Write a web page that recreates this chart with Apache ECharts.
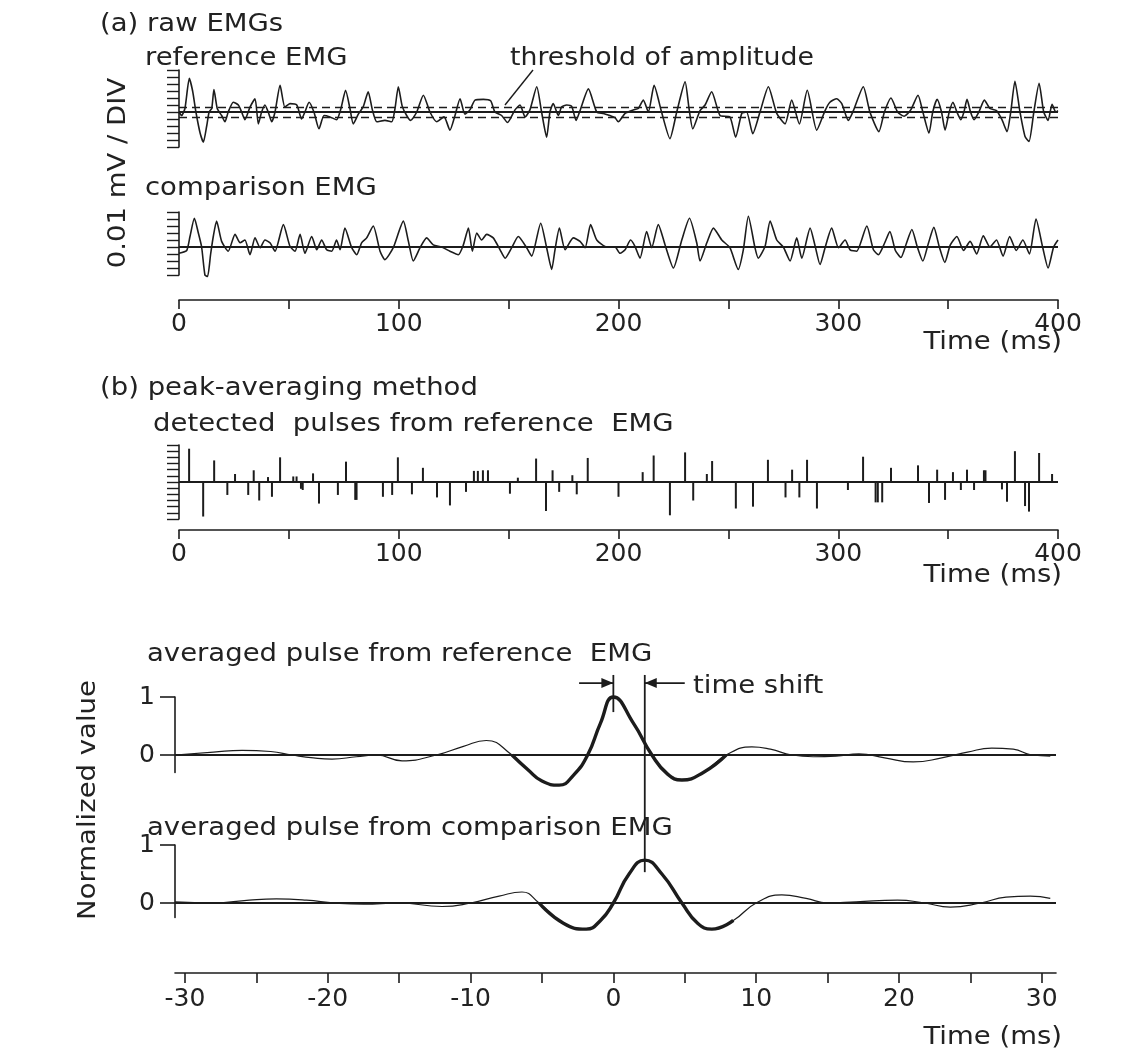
<!DOCTYPE html>
<html>
<head>
<meta charset="utf-8">
<script src="https://cdn.jsdelivr.net/npm/echarts@6/dist/echarts.min.js"></script>
<style>
html, body { margin: 0; padding: 0; background: #fff; }
#chart { width: 1146px; height: 1053px; }
</style>
</head>
<body>
<div id="chart"></div>
<script>
// (a) raw EMGs, time in ms, amplitude in DIV (0.01 mV)
var refEmgT = [0,1.2,2.7,4.7,6.2,7.7,9.6,11.1,12.6,13.7,14.9,15.9,17.4,19.4,20.9,22.4,24.7,27,28.5,30,32.3,34.6,36.1,37.6,39.1,40.6,42.2,43.7,46,48.2,50.5,53.6,55.8,57.3,59.2,61.4,63.7,66,68.7,71.7,73.7,75.8,77.8,79.3,81.6,83.9,86.1,88,90,93.7,96.8,98.3,99.8,101.6,103.6,105.4,108.2,111.2,114.2,117.3,120.6,123.3,125.6,127.9,130.1,132.4,134.7,138.5,141.8,143.8,146.8,149.5,152.9,155.2,157.5,159.7,162.8,165,167.3,168.8,170.3,172.6,174.1,176.4,178.7,180.7,182.5,186.3,190.1,193.1,196.1,198.4,199.9,203,206.7,209,211.3,213.6,216.2,219.6,223.4,226.5,230.3,232.1,233.8,237.1,239.4,242.4,246.2,250.7,253.3,256.1,258.3,261.1,264.4,268.2,272,275.8,278.8,282.3,285.9,290.2,294,296.2,299.3,301.6,304.6,306.9,311.4,314.4,318.5,321,324,327,330,333,336.3,338.5,341.3,343,345,347,348.6,350.5,352.2,354,355.8,357.2,358.6,360.2,361.8,364,366.5,369,372,374.5,376.8,378.5,380.4,382.7,385,386.8,389,391.4,393.5,395.5,397.3,399,400];
var refEmgV = [0,-0.5,0.5,4.8,3,0,-3,-4.3,-2,0,0.5,3.2,0.5,-0.5,-1.4,0,1.4,1,0,-1.1,0.7,1.9,-1.7,0,1,0,-1.4,0,3.8,0.7,1.2,1,-1,0,1.4,0,-2.4,-0.5,-0.7,-1.1,0.5,3.1,0.5,-1.7,-0.3,0.8,2.9,0.3,-1.4,-1.2,-1.4,0.5,3.6,0.8,-0.5,-1.2,0,2.4,0,-1.4,-0.7,-2.6,-0.5,1.9,-0.3,0.3,1.7,1.8,1.6,0,-0.5,-1.5,0.3,1,-0.7,0.3,3.6,0,-3.6,0,1.2,-0.5,0.7,1,0.8,-1.2,0.2,3.3,0,-0.2,-0.5,-0.8,-1.4,-0.2,0.3,0.5,1.7,0,3.8,0,-3.8,0,4.3,0.5,-2.4,0.2,1,2.9,-0.5,-0.7,-3.6,-0.2,0,-3.1,0,3.6,-0.2,-1.7,1.7,-1.7,3.1,-2.6,0.2,1.4,1.9,1.2,-1.2,0.2,3.6,0,-2.8,0,2,0,-0.6,0.3,2.4,0,-3,0,1.8,0,-2.6,0,1.4,0,-1.1,0,1.8,0,-1.1,0,1.7,0.5,0.2,-1.1,-2.8,0,4.4,0,-3.5,-4.2,0,4.1,0,-1.2,1.1,0,0.2];
var threshold = 0.75;

var cmpEmgT = [0,3.5,5,7,8.8,10.3,11.8,13,14.4,15.6,17.1,19.4,22.4,25.5,27.8,30,32.3,34.6,36.9,39.1,41.4,43.7,47.5,50.5,52.8,55.1,57.3,60.4,62.7,64.9,67.2,69.5,71.7,73.3,75.5,78.6,80.9,83.1,85.4,88.4,91.5,93.7,97.5,102.1,104.4,106.6,109.7,112.7,115.7,119.5,123.3,127.1,129.4,131.7,133.5,135.5,137.7,140,143,146.1,148.4,151.4,154.4,158.2,160.5,164.6,167.3,169.6,171.1,173.1,175.7,179.4,182.5,184.8,187.3,190.1,194.6,198.4,200.7,203,205.5,207.5,209.8,212.8,215.1,218.1,221.2,225,228.8,232.3,235.6,237.1,240.2,243.2,247,250.7,254.5,256.8,259.1,262.1,263.6,266.7,269,272,275,278.1,281.1,283.4,287.2,289.5,291.7,294,297,300.1,303.1,305.4,308.4,313,316,318.3,321,323.5,326,328.5,331,333.5,336,338.5,341,343.5,346,348.5,351,354,357,360,363,366,369,372,375,378,381,384,387,390,393,395.5,398,400];
var cmpEmgV = [-0.9,-0.5,1.5,4.1,2,0,-4,-4.2,-1,1.5,3.7,0.8,-0.6,1.8,0.6,1,-1.1,1.3,-0.1,1,0.6,-0.6,3.2,0.1,-0.6,1.8,-0.9,1.5,-0.4,1,-0.4,-0.6,1,-0.4,2.7,-0.1,-1.1,0.6,1.3,3,-0.6,-1.8,-0.1,3.7,0.8,-2,-0.1,1.3,0.3,0,-0.6,-1.1,0.3,2.7,-0.6,2,1,1.8,1.3,-0.4,-1.6,-0.1,1.5,-0.1,-1.3,3.4,-0.1,-3.2,-0.4,2.7,-0.4,1.3,0.8,-0.1,3.2,1,0,0,-0.9,-0.4,1,0.1,-1.6,2.2,-0.1,3.2,0.3,-3,1,4.1,0.6,-2,0.6,2.7,1,-0.1,-3.2,-0.4,4.4,-0.1,-1.6,0.1,3.7,1,0,-2,1.3,-1.6,2.7,0.1,-2.5,-0.1,2.7,-0.1,1,-0.4,-0.6,3,-0.4,-1.1,0.5,2.2,-0.5,-1.5,0.5,2.5,0,-2,0.5,2.8,0,-2.2,0.3,1.5,-0.5,0.8,-1,1.6,0,1,-1.3,1.5,-0.5,1,-1,4,0,-3,0,1];

// (b) detected pulses from reference EMG
var pulseT = [4.6,11,16,22,25.5,31.5,34,36.5,40.5,42.3,46,52,53.5,55.5,56.3,61,63.7,72.3,76,80.2,80.8,92.8,97,99.6,106,111,117.4,123.3,130.6,134.2,136,138.3,140.6,150.6,154.2,162.5,167,170,173,179,181,186,200,211,216,223.4,230.3,234,240.2,242.6,253.4,261.2,268,276,279,282.3,285.8,290.3,304.4,311.3,317,318,320,324,336.3,341.3,345,348.6,352.2,355.8,358.6,361.8,366.3,367,374.5,376.8,380.4,385,386.8,391.4,397.3];
var pulseV = [5.4,-5.6,3.5,-2.1,1.3,-2.1,1.9,-3,0.8,-2.4,4,0.9,0.9,-1.1,-1.3,1.4,-3.5,-2.1,3.3,-2.9,-2.9,-2.4,-2.1,4,-2,2.3,-2.5,-3.8,-1.6,1.8,1.8,1.9,1.9,-1.9,0.7,3.8,-4.7,1.9,-1.6,1.1,-2,3.9,-2.4,1.6,4.3,-5.4,4.8,-3,1.3,3.4,-4.3,-4,3.6,-2.5,2,-2.5,3.6,-4.3,-1.3,4.1,-3.3,-3.3,-3.3,2.3,2.7,-3.4,2,-2.9,1.6,-1.3,2,-1.3,1.9,1.9,-1.2,-3.2,5,-3.9,-4.8,4.7,1.3];

// averaged pulses, time in ms, normalized value
var refAvgT = [-30.7,-28,-26,-24,-22.5,-21,-19.7,-18,-16.6,-14.8,-12.4,-10.5,-8.9,-7.1,-6,-5,-3.8,-2.8,-1.8,-0.9,0,1.4,2.7,3.8,4.8,6.3,7.9,9.7,11,12.5,14,15.6,17.2,19,21,23,24.8,26.5,28,29.3,30.6];
var refAvgV = [0,0.05,0.08,0.06,0,-0.05,-0.07,-0.03,0,-0.1,0,0.15,0.25,0,-0.25,-0.45,-0.52,-0.35,0,0.55,1,0.55,0,-0.33,-0.43,-0.3,0,0.14,0.1,0,-0.03,-0.02,0.02,-0.05,-0.12,-0.05,0.05,0.12,0.1,0,-0.02];
var cmpAvgT = [-30.7,-28,-25.5,-23.6,-21.5,-19.5,-17.5,-15,-12,-10,-8,-6.4,-5.2,-3.5,-1.9,-0.9,0,1.1,2.2,3.4,4.8,5.9,6.9,8.4,10,11.8,13.5,15,17,19.9,21.8,23.6,25.7,27.5,29.2,30.6];
var cmpAvgV = [0.02,0,0.05,0.07,0.05,0,-0.02,0,-0.06,0,0.12,0.19,0,-0.35,-0.45,-0.3,0,0.5,0.74,0.5,0,-0.35,-0.45,-0.3,0,0.14,0.08,0,0.02,0.05,0,-0.07,0,0.1,0.12,0.08];
var refLobe = [-7.1, 7.9];   // heavy part of the averaged pulses
var cmpLobe = [-5.2, 8.4];
var timeShift = 2.2;
// time-shift marks in the upper averaged panel: x1, y1, x2, y2, arrow head
var shiftMarks = [
    [0, 1.38, 0, 0.74, 0],
    [timeShift, 1.38, timeShift, -2.02, 0],
    [-2.4, 1.24, 0, 1.24, 1],
    [5.0, 1.24, timeShift, 1.24, 1]
];

var timeTicks = [0, 50, 100, 150, 200, 250, 300, 350, 400];
var shiftTicks = [-30, -25, -20, -15, -10, -5, 0, 5, 10, 15, 20, 25, 30];
var shiftLabels = [-30, -20, -10, 0, 10, 20, 30];
var normTicks = [0, 1];

var INK = '#1c1c1c';
var FONT = 'DejaVu Sans';

function pairs(t, v) { return t.map(function (x, i) { return [x, v[i]]; }); }
function part(t, v, r) { return pairs(t, v).filter(function (p) { return p[0] >= r[0] && p[0] <= r[1]; }); }

var axLine = { show: true, onZero: false, lineStyle: { color: INK, width: 1.6 } };
var lblStyle = { color: '#222', fontFamily: FONT, fontSize: 25 };

function timeAxis(grid, offset) {
    return {
        gridIndex: grid, type: 'value', min: 0, max: 400, interval: 50, offset: offset,
        axisLine: axLine, splitLine: { show: false },
        axisTick: { show: true, length: 9, lineStyle: { color: INK, width: 1.6 } },
        axisLabel: Object.assign({ margin: 12, formatter: function (v) { return v % 100 === 0 ? String(v) : ''; } }, lblStyle)
    };
}
function divAxis(grid, lo, hi) {
    return {
        gridIndex: grid, type: 'value', min: lo, max: hi, interval: 1,
        axisLine: axLine, splitLine: { show: false }, axisLabel: { show: false },
        axisTick: { show: true, length: 12, lineStyle: { color: INK, width: 1.4 } }
    };
}
function normAxis(grid, lo) {
    return {
        gridIndex: grid, type: 'value', min: lo, max: 1,
        axisLine: axLine, splitLine: { show: false },
        axisTick: { show: true, length: 15, customValues: normTicks, lineStyle: { color: INK, width: 1.6 } },
        axisLabel: Object.assign({ margin: 20, customValues: normTicks }, lblStyle)
    };
}
function zeroLine(extra) {
    return {
        silent: true, symbol: 'none', label: { show: false },
        lineStyle: { color: INK, width: 1.8, type: 'solid' },
        data: [{ yAxis: 0 }].concat(extra || [])
    };
}

function txt(s, x, y, o) {
    o = o || {};
    return {
        type: 'text', x: x, y: y, rotation: o.rot || 0, scaleX: o.sx || 1.1,
        style: {
            text: s, fill: '#222', fontFamily: FONT, fontSize: o.size || 25,
            textAlign: o.align || 'left', textVerticalAlign: 'middle'
        }
    };
}

function drawMark(params, api) {
    var a = api.coord([api.value(0), api.value(1)]);
    var b = api.coord([api.value(2), api.value(3)]);
    var kids = [{
        type: 'line', shape: { x1: a[0], y1: a[1], x2: b[0], y2: b[1] },
        style: { stroke: INK, lineWidth: 1.8 }
    }];
    if (api.value(4)) {
        var d = b[0] > a[0] ? 1 : -1;
        kids.push({
            type: 'polygon',
            shape: { points: [[b[0], b[1]], [b[0] - d * 12, b[1] - 5], [b[0] - d * 12, b[1] + 5]] },
            style: { fill: INK }
        });
    }
    return { type: 'group', children: kids };
}

var chart = echarts.init(document.getElementById('chart'));
chart.setOption({
    animation: false,
    backgroundColor: '#fff',
    grid: [
        { left: 179, top: 70, width: 879, height: 77 },
        { left: 179, top: 212, width: 879, height: 63 },
        { left: 179, top: 445, width: 879, height: 74 },
        { left: 175, top: 697, width: 881, height: 75.4 },
        { left: 175, top: 845, width: 881, height: 72.5 }
    ],
    xAxis: [
        { gridIndex: 0, type: 'value', min: 0, max: 400, show: false },
        timeAxis(1, 25),
        timeAxis(2, 11),
        { gridIndex: 3, type: 'value', min: -30.7, max: 31, show: false },
        {
            gridIndex: 4, type: 'value', min: -30.7, max: 31, offset: 55.5,
            axisLine: axLine, splitLine: { show: false },
            axisTick: { show: true, length: 10, customValues: shiftTicks, lineStyle: { color: INK, width: 1.6 } },
            axisLabel: Object.assign({ margin: 14, customValues: shiftLabels }, lblStyle)
        }
    ],
    yAxis: [
        divAxis(0, -5, 6),
        divAxis(1, -4, 5),
        divAxis(2, -6, 6),
        normAxis(3, -0.3),
        normAxis(4, -0.25)
    ],
    series: [
        {
            type: 'line', xAxisIndex: 0, yAxisIndex: 0, data: pairs(refEmgT, refEmgV),
            smooth: 0.2, showSymbol: false, clip: false,
            lineStyle: { color: INK, width: 1.6 },
            markLine: zeroLine([
                { yAxis: threshold, lineStyle: { type: [8, 5], width: 1.4 } },
                { yAxis: -threshold, lineStyle: { type: [8, 5], width: 1.4 } }
            ])
        },
        {
            type: 'line', xAxisIndex: 1, yAxisIndex: 1, data: pairs(cmpEmgT, cmpEmgV),
            smooth: 0.2, showSymbol: false, clip: false,
            lineStyle: { color: INK, width: 1.6 },
            markLine: zeroLine()
        },
        {
            type: 'bar', xAxisIndex: 2, yAxisIndex: 2, data: pairs(pulseT, pulseV),
            barWidth: 2, itemStyle: { color: INK },
            markLine: zeroLine()
        },
        {
            type: 'line', xAxisIndex: 3, yAxisIndex: 3, data: pairs(refAvgT, refAvgV),
            smooth: true, showSymbol: false, clip: false,
            lineStyle: { color: INK, width: 1.2 },
            markLine: zeroLine()
        },
        {
            type: 'line', xAxisIndex: 3, yAxisIndex: 3, data: part(refAvgT, refAvgV, refLobe),
            smooth: true, showSymbol: false, clip: false,
            lineStyle: { color: INK, width: 3.4 }
        },
        {
            type: 'custom', xAxisIndex: 3, yAxisIndex: 3, data: shiftMarks, clip: false,
            encode: { x: [0, 2], y: [1, 3] }, renderItem: drawMark, silent: true
        },
        {
            type: 'line', xAxisIndex: 4, yAxisIndex: 4, data: pairs(cmpAvgT, cmpAvgV),
            smooth: true, showSymbol: false, clip: false,
            lineStyle: { color: INK, width: 1.2 },
            markLine: zeroLine()
        },
        {
            type: 'line', xAxisIndex: 4, yAxisIndex: 4, data: part(cmpAvgT, cmpAvgV, cmpLobe),
            smooth: true, showSymbol: false, clip: false,
            lineStyle: { color: INK, width: 3.4 }
        }
    ],
    graphic: [
        txt('(a) raw EMGs', 100, 24),
        txt('reference EMG', 145, 58),
        txt('threshold of amplitude', 510, 58, { sx: 1.07 }),
        { type: 'line', shape: { x1: 533, y1: 70, x2: 505, y2: 105 }, style: { stroke: INK, lineWidth: 1.4 } },
        txt('0.01 mV / DIV', 118, 173, { rot: Math.PI / 2, align: 'center' }),
        txt('comparison EMG', 145, 188),
        txt('Time (ms)', 1062, 342, { align: 'right' }),
        txt('(b) peak-averaging method', 100, 388),
        txt('detected  pulses from reference  EMG', 153, 424),
        txt('Time (ms)', 1062, 575, { align: 'right' }),
        txt('averaged pulse from reference  EMG', 147, 654),
        txt('time shift', 693, 686),
        txt('averaged pulse from comparison EMG', 147, 828),
        txt('Normalized value', 88, 800, { rot: Math.PI / 2, align: 'center' }),
        txt('Time (ms)', 1062, 1037, { align: 'right' })
    ]
});
</script>
</body>
</html>
